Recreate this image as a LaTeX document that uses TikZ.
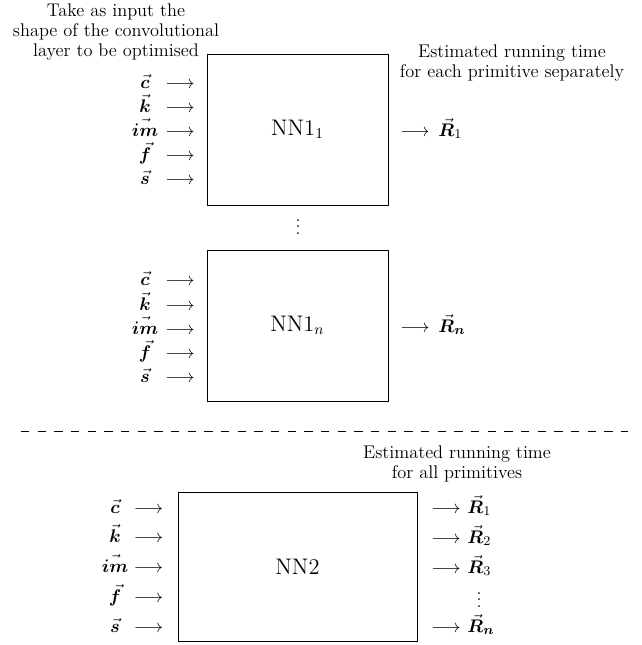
\documentclass[tikz,border=0pt]{standalone}
\usepackage{amsmath,bm}
\begin{document}
\begin{tikzpicture}[x=0.6pt,y=-0.6pt,
  font=\fontsize{11}{12}\selectfont,
  nnbox/.style={draw, line width=0.6pt, inner sep=0pt, font=\fontsize{13.5}{14}\selectfont},
  small/.style={minimum width=108.6pt, minimum height=90.6pt},
  wide/.style={minimum width=143.4pt, minimum height=89.4pt},
  lbl/.style={inner sep=0pt, anchor=base, font=\fontsize{10.5}{12}\selectfont},
  arr/.style={inner sep=0pt, anchor=base},
  rl/.style={inner sep=0pt, anchor=base west},
  note/.style={align=center, inner sep=0pt},
  sep/.style={dash pattern=on 5pt off 5pt, line width=0.5pt}]
\useasboundingbox (0,0) rectangle (642,645);

% notes
\node[note] (t1) at (116,32) {Take as input the\\shape of the convolutional\\layer to be optimised};
\node[note] (t2) at (512,63) {Estimated running time\\for each primitive separately};
\node[note] (t3) at (457,464) {Estimated running time\\for all primitives};

% boxes
\node[nnbox, small] (nna) at (297.5,129.5) {NN1$_1$};
\node[nnbox, small] (nnb) at (297.5,325.5) {NN1$_n$};
\node[nnbox, wide] (nnc) at (297.5,566.5) {NN2};

\node[inner sep=0pt] (vd) at (298,222) {$\vdots$};

% inputs of box 1
\foreach \y/\v [count=\i] in {83/{\bm c},107/{\bm k},131/{\bm{im}},155/{\bm f},179/{\bm s}}{
  \node[lbl] (ia\i) at (145,\y+5) {$\vec{\v}$};
  \node[arr] (aa\i) at (180,\y+5) {$\longrightarrow$};
}
% inputs of box 2
\foreach \y/\v [count=\i] in {280/{\bm c},305/{\bm k},329/{\bm{im}},353/{\bm f},377/{\bm s}}{
  \node[lbl] (ib\i) at (145,\y+5) {$\vec{\v}$};
  \node[arr] (ab\i) at (180,\y+5) {$\longrightarrow$};
}
% inputs of box 3
\foreach \y/\v [count=\i] in {508/{\bm c},537/{\bm k},567/{\bm{im}},597/{\bm f},627/{\bm s}}{
  \node[lbl] (ic\i) at (115,\y+5) {$\vec{\v}$};
  \node[arr] (ac\i) at (148.5,\y+5) {$\longrightarrow$};
}

% outputs
\node[arr] (oa) at (415,136) {$\longrightarrow$};
\node[rl] (ra) at (438,136) {$\vec{\bm R}_1$};
\node[arr] (ob) at (415,332) {$\longrightarrow$};
\node[rl] (rb) at (438,332) {$\vec{\bm R}_{\bm n}$};

\foreach \y/\s [count=\i] in {508/1,538/2,568/3}{
  \node[arr] (oc\i) at (446,\y+5) {$\longrightarrow$};
  \node[rl] (rc\i) at (467,\y+5) {$\vec{\bm R}_{\s}$};
}
\node[inner sep=0pt] (vd2) at (479,595) {$\vdots$};
\node[arr] (ocn) at (446,632) {$\longrightarrow$};
\node[rl] (rcn) at (467,632) {$\vec{\bm R}_{\bm n}$};

% separator
\coordinate (s1) at (21,431);
\coordinate (s2) at (628,431);
\draw[sep] (s1) -- (s2);
\end{tikzpicture}
\end{document}
